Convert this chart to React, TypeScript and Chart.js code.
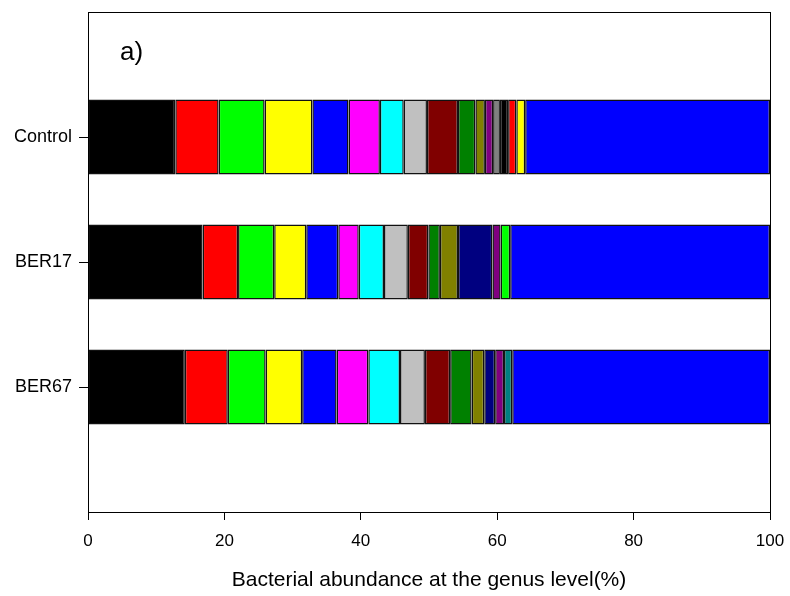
import React, { useEffect, useRef } from "react";
import { Chart, registerables } from "chart.js";

Chart.register(...registerables);

const categories = ["Control", "BER17", "BER67"];
const xTicks = [0, 20, 40, 60, 80, 100];

// genus segments (percent), in stacking order; null = absent
const genusBlack = [12.8, 16.8, 14.2];
const genusRed = [6.35, 5.2, 6.3];
const genusLime = [6.75, 5.3, 5.55];
const genusYellow = [7.0, 4.7, 5.35];
const genusBlue = [5.3, 4.7, 5.05];
const genusMagenta = [4.6, 3.0, 4.65];
const genusCyan = [3.5, 3.7, 4.65];
const genusSilver = [3.4, 3.5, 3.65];
const genusMaroon = [4.55, 3.0, 3.7];
const genusGreen = [2.55, 1.7, 3.15];
const genusOlive = [1.4, 2.65, 1.85];
const genusNavy = [null, 5.05, 1.6];
const genusPurple = [1.2, 1.2, 1.3];
const genusGray = [1.0, null, null];
const genusBlack2 = [1.2, null, null];
const genusRed2 = [1.2, null, null];
const genusYellow2 = [1.3, null, null];
const genusTeal = [null, null, 1.2];
const genusLime2 = [null, 1.4, null];
const genusOthers = [35.9, 38.1, 37.8];

const seriesList: [string, (number | null)[], string][] = [
  ["G1", genusBlack, "#000000"],
  ["G2", genusRed, "#FF0000"],
  ["G3", genusLime, "#00FF00"],
  ["G4", genusYellow, "#FFFF00"],
  ["G5", genusBlue, "#0000FF"],
  ["G6", genusMagenta, "#FF00FF"],
  ["G7", genusCyan, "#00FFFF"],
  ["G8", genusSilver, "#C0C0C0"],
  ["G9", genusMaroon, "#800000"],
  ["G10", genusGreen, "#008000"],
  ["G11", genusOlive, "#808000"],
  ["G12", genusNavy, "#000080"],
  ["G13", genusPurple, "#800080"],
  ["G14", genusGray, "#808080"],
  ["G15", genusBlack2, "#000000"],
  ["G16", genusRed2, "#FF0000"],
  ["G17", genusYellow2, "#FFFF00"],
  ["G18", genusTeal, "#008080"],
  ["G19", genusLime2, "#00FF00"],
  ["Others", genusOthers, "#0000FF"],
];

const FONT = "'Liberation Sans', Arial, sans-serif";

const extrasPlugin = {
  id: "extras",
  afterDatasetsDraw(chart: any) {
    const { ctx, chartArea } = chart;
    ctx.save();
    ctx.strokeStyle = "#000";
    ctx.lineWidth = 1;
    ctx.strokeRect(
      Math.round(chartArea.left) + 0.5,
      Math.round(chartArea.top) + 0.5,
      Math.round(chartArea.right - chartArea.left),
      Math.round(chartArea.bottom - chartArea.top)
    );
    ctx.fillStyle = "#000";
    ctx.font = `26px ${FONT}`;
    ctx.textBaseline = "alphabetic";
    ctx.textAlign = "left";
    ctx.fillText("a)", 120, 60);
    ctx.restore();
  },
};

export default function App() {
  const ref = useRef<HTMLCanvasElement>(null);
  useEffect(() => {
    const labels = ["", ...categories, ""];
    const chart = new Chart(ref.current!, {
      type: "bar",
      data: {
        labels,
        datasets: seriesList.map(([name, vals, color]) => ({
          label: name,
          data: [null, ...vals, null],
          backgroundColor: color,
          borderColor: "#111",
          borderWidth: 1.5,
          borderSkipped: false,
          barPercentage: 0.6,
          categoryPercentage: 1,
        })),
      },
      options: {
        indexAxis: "y",
        animation: false,
        responsive: false,
        maintainAspectRatio: false,
        layout: { padding: { left: 0, top: 12, right: 20, bottom: 0 } },
        plugins: { legend: { display: false }, tooltip: { enabled: false } },
        scales: {
          x: {
            stacked: true,
            min: 0,
            max: 100,
            afterBuildTicks: (s: any) => {
              s.ticks = xTicks.map((v) => ({ value: v }));
            },
            afterFit: (s: any) => {
              s.height = 84;
              s.paddingLeft = 0;
              s.paddingRight = 0;
            },
            border: { display: true, color: "#000", width: 1 },
            grid: {
              drawOnChartArea: false,
              drawTicks: true,
              tickLength: 8,
              color: "#000",
            },
            ticks: {
              color: "#000",
              font: { family: FONT, size: 17 },
              padding: 11,
              maxRotation: 0,
            },
            title: {
              display: true,
              text: "Bacterial abundance at the genus level(%)",
              color: "#000",
              font: { family: FONT, size: 21 },
              padding: { top: 0, bottom: 3 },
            },
          },
          y: {
            stacked: true,
            offset: false,
            afterFit: (s: any) => {
              s.width = 88;
              s.paddingTop = 0;
              s.paddingBottom = 0;
            },
            border: { display: true, color: "#000", width: 1 },
            grid: {
              offset: false,
              drawOnChartArea: false,
              drawTicks: true,
              tickLength: 9,
              color: "#000",
              tickColor: (c: any) =>
                c.index === 0 || c.index === labels.length - 1 ? "rgba(0,0,0,0)" : "#000",
            },
            ticks: {
              color: "#000",
              font: { family: FONT, size: 18 },
              padding: 7,
              autoSkip: false,
            },
          },
        },
      },
      plugins: [extrasPlugin],
    } as any);
    return () => chart.destroy();
  }, []);
  return (
    <div style={{ position: "fixed", left: 0, top: 0, width: 790, height: 596, background: "#fff" }}>
      <canvas ref={ref} width={790} height={596} style={{ width: 790, height: 596 }} />
    </div>
  );
}
